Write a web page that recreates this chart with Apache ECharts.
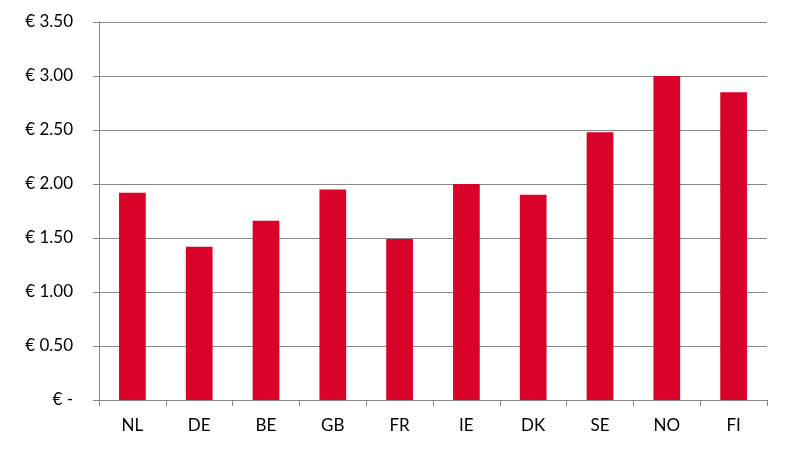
<!DOCTYPE html>
<html><head><meta charset="utf-8">
<script src="https://cdn.jsdelivr.net/npm/echarts@6/dist/echarts.min.js"></script>
<style>html,body{margin:0;padding:0;background:#fff}#c{width:789px;height:450px}</style>
</head><body><div id="c"></div>
<script>
const categories = ['NL','DE','BE','GB','FR','IE','DK','SE','NO','FI'];
const values = [1.92, 1.42, 1.66, 1.95, 1.49, 2.00, 1.90, 2.48, 3.00, 2.85];
const yTicks = [0, 0.5, 1, 1.5, 2, 2.5, 3, 3.5];

const chart = echarts.init(document.getElementById('c'));
const font = 'Lato, "DejaVu Sans", sans-serif';
chart.setOption({
  animation: false,
  grid: {left: 99, right: 22, top: 22, bottom: 50},
  xAxis: {
    type: 'category', data: categories,
    axisLine: {lineStyle: {color: '#888', width: 1}},
    axisTick: {show: true, length: 6, lineStyle: {color: '#888'}},
    axisLabel: {color: '#000', fontSize: 17, fontFamily: font, margin: 17}
  },
  yAxis: {
    type: 'value', min: yTicks[0], max: yTicks[yTicks.length-1], interval: 0.5,
    axisLine: {show: true, lineStyle: {color: '#888', width: 1}},
    axisTick: {show: true, length: 6, lineStyle: {color: '#888'}},
    splitLine: {lineStyle: {color: '#888', width: 1}},
    axisLabel: {color: '#000', fontSize: 17, fontFamily: font, margin: 26,
      formatter: v => v === 0 ? '€ -' : '€ ' + v.toFixed(2)}
  },
  series: [{
    type: 'bar', data: values, barWidth: '40%',
    itemStyle: {color: '#D90229'}
  }]
});
</script></body></html>
